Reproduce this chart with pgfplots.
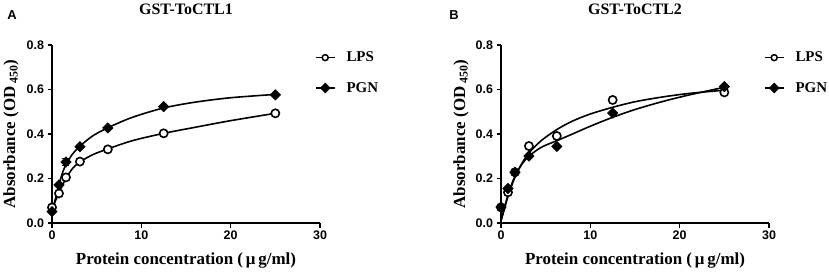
\documentclass[border=0pt]{standalone}
\usepackage{fontspec}
\setmainfont{Liberation Serif}
\newfontfamily\arialfont{Liberation Sans}
\usepackage{pgfplots}
\pgfplotsset{compat=1.18}
\pgfplotsset{
  myaxis/.style={
    scale only axis, width=268bp, height=178bp,
    xmin=0, xmax=30, ymin=0, ymax=0.8,
    axis x line*=bottom, axis y line*=left,
    axis line style={-, line width=1.6bp},
    xtick={0,10,20,30}, ytick={0,0.2,0.4,0.6,0.8},
    tick align=outside, major tick length=4.5bp,
    tick style={line width=1.4bp, black},
    /pgf/number format/assume math mode=true,
    tick label style={font=\arialfont\bfseries\fontsize{12.5}{12.5}\selectfont},
    yticklabel style={/pgf/number format/.cd, fixed, fixed zerofill, precision=1},
    xlabel={Protein concentration (\,μ\,g/ml)},
    ylabel={Absorbance (OD\,\textsubscript{450})},
    label style={font=\bfseries\fontsize{17}{17}\selectfont},
    xlabel style={at={(axis description cs:0.5,-0.213)}, anchor=center},
    every axis title/.style={at={(axis description cs:0.5,1.202)}, anchor=center, font=\bfseries\fontsize{16}{16}\selectfont},
    clip=false,
    legend style={draw=none, fill=none, at={(axis description cs:0.981,0.961)}, anchor=north west,
      inner sep=0pt, outer sep=0pt, row sep=19bp, column sep=11bp,
      nodes={inner sep=0pt, font=\bfseries\fontsize{15}{15}\selectfont}},
    legend cell align=left,
    legend image code/.code={\draw[mark repeat=2,mark phase=2,#1] plot coordinates {(0bp,0bp) (9.5bp,0bp) (19bp,0bp)};},
  },
  curve/.style={black, line width=1.6bp, no marks, smooth},
  lpsmark/.style={black, only marks, mark=*, mark size=4.1bp, mark options={fill=white, draw=black, line width=1.6bp}},
  pgnmark/.style={black, only marks, mark=square*, mark size=3.7bp, mark options={rotate=45, fill=black, draw=black, line width=0.5bp}},
}
\begin{document}
\begin{tikzpicture}
\useasboundingbox (0,0) rectangle (829bp,273bp);
% Panel A
\begin{axis}[myaxis, at={(52bp,50bp)}, anchor=south west, title={GST-ToCTL1},
  ylabel style={at={(axis description cs:-0.153,0.5)}, anchor=center}]
\addlegendimage{black, line width=1.6bp, mark=*, mark size=3bp, mark options={fill=white, line width=1.5bp}}
\addlegendentry{LPS}
\addlegendimage{black, line width=1.6bp, mark=square*, mark size=3bp, mark options={rotate=45, fill=black}}
\addlegendentry{PGN}
\addplot[curve, forget plot] coordinates {(0,0.065) (0.39,0.10) (0.78,0.135) (1.17,0.17) (1.56,0.20) (2.3,0.245) (3.125,0.274) (4.5,0.306) (6.25,0.333) (9,0.37) (12.5,0.403) (16,0.43) (20,0.46) (25,0.493)};
\addplot[curve, forget plot] coordinates {(0,0.045) (0.39,0.11) (0.78,0.172) (1.17,0.225) (1.56,0.262) (2.3,0.31) (3.125,0.345) (4.5,0.39) (6.25,0.428) (9,0.475) (12.5,0.517) (16,0.543) (20,0.563) (25,0.578)};
\addplot[lpsmark, forget plot] coordinates {(0,0.070) (0.78125,0.133) (1.5625,0.205) (3.125,0.276) (6.25,0.331) (12.5,0.403) (25,0.493)};
\addplot[pgnmark, forget plot, error bars/.cd, y dir=both, y explicit,
  error bar style={line width=1.3bp, black}, error mark options={rotate=90, mark size=3.5bp, line width=1.3bp, black}]
  coordinates {(0,0.051) (0.78125,0.171) (1.5625,0.274) +- (0,0.017) (3.125,0.343) (6.25,0.427) (12.5,0.523) (25,0.576)};
\node[font=\arialfont\bfseries\fontsize{13}{13}\selectfont] at (axis description cs:-0.149,1.171) {A};
\end{axis}
% Panel B
\begin{axis}[myaxis, at={(501bp,50bp)}, anchor=south west, title={GST-ToCTL2},
  ylabel style={at={(axis description cs:-0.149,0.5)}, anchor=center}]
\addlegendimage{black, line width=1.6bp, mark=*, mark size=3bp, mark options={fill=white, line width=1.5bp}}
\addlegendentry{LPS}
\addlegendimage{black, line width=1.6bp, mark=square*, mark size=3bp, mark options={rotate=45, fill=black}}
\addlegendentry{PGN}
\addplot[curve, forget plot] coordinates {(0,0.01) (0.39,0.065) (0.78,0.12) (1.17,0.165) (1.56,0.205) (2.3,0.265) (3.125,0.315) (4.5,0.37) (6.25,0.42) (8,0.458) (10,0.49) (12.5,0.52) (15,0.545) (18,0.566) (21,0.582) (25,0.597)};
\addplot[curve, forget plot] coordinates {(0,0.01) (0.39,0.07) (0.78,0.125) (1.17,0.172) (1.56,0.21) (2.3,0.262) (3.125,0.30) (4.5,0.34) (6.25,0.37) (8,0.40) (10,0.435) (12.5,0.475) (15,0.51) (18,0.545) (21,0.575) (25,0.61)};
\addplot[lpsmark, forget plot] coordinates {(0,0.070) (0.78125,0.138) (1.5625,0.228) (3.125,0.346) (6.25,0.391) (12.5,0.553) (25,0.587)};
\addplot[pgnmark, forget plot] coordinates {(0,0.072) (0.78125,0.155) (1.5625,0.228) (3.125,0.301) (6.25,0.344) (12.5,0.494) (25,0.613)};
\node[font=\arialfont\bfseries\fontsize{13}{13}\selectfont] at (axis description cs:-0.175,1.171) {B};
\end{axis}
\end{tikzpicture}
\end{document}
